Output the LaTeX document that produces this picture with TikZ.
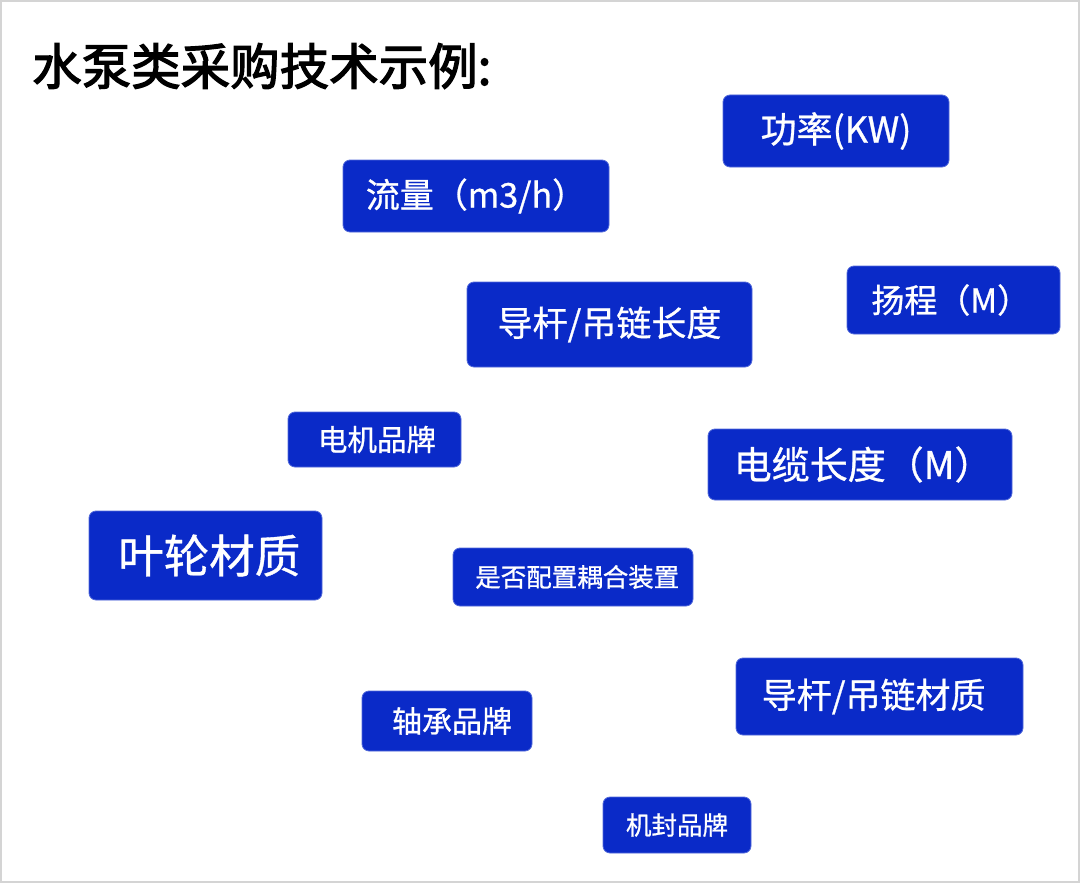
\documentclass[tikz,border=0pt]{standalone}
\usepackage{fontspec}
\setmainfont{Noto Sans CJK SC}
\newfontfamily\titlefont{Noto Sans CJK SC}[FakeBold=2.5]
\newfontfamily\tagfont{Noto Sans CJK SC}[FakeBold=0.8]
\usetikzlibrary{positioning}
\definecolor{tagblue}{HTML}{0A2AC8}
\definecolor{frame}{HTML}{D4D4D4}
\newcommand{\fs}[1]{\tagfont\fontsize{#1}{#1}\selectfont}

\begin{document}
\begin{tikzpicture}[x=1pt,y=-1pt,
    tag/.style={fill=tagblue,text=white,rounded corners=7pt,inner sep=0pt,draw=tagblue!70!white,line width=0.8pt}]
    % page and frame
    \useasboundingbox (0,0) rectangle (1080,883);
    \draw[frame,line width=2.5pt] (1,1) rectangle (1079,882);
    % title
    \node[anchor=west,inner sep=0pt,font=\titlefont\fontsize{49.5}{49.5}\selectfont] (title) at (32,66) {水泵类采购技术示例:};
    % parameter tags
    \node[tag,minimum width=226pt,minimum height=72pt,font=\fs{36}] (power) at (836,131) {功率(KW)};
    \node[tag,minimum width=266pt,minimum height=72pt,font=\fs{34}] (flow) at (476,196) {流量（m3/h）};
    \node[tag,minimum width=285pt,minimum height=85pt,font=\fs{35}] (rodlen) at (609.5,324.5) {导杆/吊链长度};
    \node[tag,minimum width=213pt,minimum height=68pt,font=\fs{33}] (head) at (953.5,300) {扬程（M）\,};
    \node[tag,minimum width=173pt,minimum height=55pt,font=\fs{29.5}] (motor) at (374.5,439.5) {\,电机品牌};
    \node[tag,minimum width=304pt,minimum height=71pt,font=\fs{38}] (cable) at (860,464.5) {\,电缆长度（M）};
    \node[tag,minimum width=233pt,minimum height=89pt,font=\fs{45.5}] (impeller) at (205.5,555.5) {\,叶轮材质};
    \node[tag,minimum width=240pt,minimum height=58pt,font=\fs{25.5}] (coupling) at (573,577) {\,\,是否配置耦合装置};
    \node[tag,minimum width=287pt,minimum height=77pt,font=\fs{35}] (rodmat) at (879.5,696.5) {导杆/吊链材质\,\,};
    \node[tag,minimum width=170pt,minimum height=60pt,font=\fs{30}] (bearing) at (447,721) {\,\,轴承品牌};
    \node[tag,minimum width=148pt,minimum height=56pt,font=\fs{25.5}] (seal) at (677,825) {机封品牌};
  \end{tikzpicture}
\end{document}
